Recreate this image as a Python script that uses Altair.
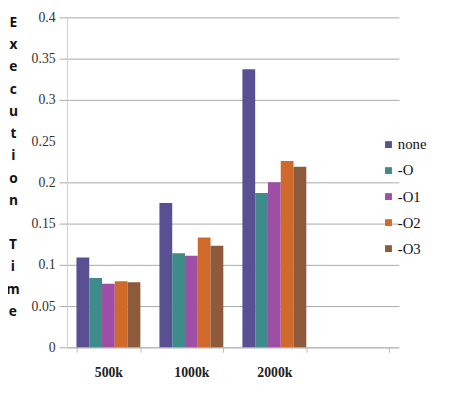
import altair as alt
import pandas as pd

categories = ["500k", "1000k", "2000k"]
all_categories = ["500k", "1000k", "2000k", "pad"]
series = ["none", "-O", "-O1", "-O2", "-O3"]
colors = ["#594f93", "#3f8a8b", "#9f4ea6", "#d06a2b", "#8d5b3b"]

v_none = [0.109, 0.175, 0.337]
v_O = [0.084, 0.114, 0.187]
v_O1 = [0.077, 0.111, 0.200]
v_O2 = [0.080, 0.133, 0.226]
v_O3 = [0.079, 0.123, 0.219]

y_ticks = [0, 0.05, 0.1, 0.15, 0.2, 0.25, 0.3, 0.35, 0.4]
title_word1 = ["E", "x", "e", "c", "u", "t", "i", "o", "n"]
title_word2 = ["T", "i", "m", "e"]

rows = []
for s, vals in zip(series, [v_none, v_O, v_O1, v_O2, v_O3]):
    for c, v in zip(categories, vals):
        rows.append({"size": c, "opt": s, "time": v})
df = pd.DataFrame(rows)

SERIF = "Times New Roman, Liberation Serif, serif"
LH = 22.7

bars = alt.Chart(df).mark_bar().encode(
    x=alt.X("size:N",
            scale=alt.Scale(domain=all_categories, paddingInner=0.23, paddingOuter=0.115),
            axis=alt.Axis(title=None, labelAngle=0, tickBand="extent", tickSize=5,
                          labelExpr="datum.value == 'pad' ? '' : datum.label",
                          labelFont=SERIF, labelFontSize=14, labelFontWeight="bold",
                          labelColor="#222", labelPadding=14, domainColor="#bbbbbb",
                          tickColor="#bbbbbb", grid=False)),
    xOffset=alt.XOffset("opt:N", scale=alt.Scale(domain=series, paddingInner=0, paddingOuter=0)),
    y=alt.Y("time:Q",
            scale=alt.Scale(domain=[0, 0.4], nice=False),
            axis=alt.Axis(values=y_ticks, title=title_word1, titleAngle=0, format="~g",
                          titleX=-55, titleY=-2, titleAlign="center", titleBaseline="top",
                          titleFont="Open Sans", titleFontSize=14, titleFontWeight="bold",
                          titleLineHeight=LH, titleColor="#111",
                          labelFont=SERIF, labelFontSize=14, labelColor="#333",
                          labelPadding=4, tickSize=8,
                          gridColor=alt.condition("abs(datum.value - 0.25) < 0.001",
                                                  alt.value("transparent"),
                                                  alt.value("#a8a8a8")),
                          tickColor=alt.condition("abs(datum.value - 0.25) < 0.001",
                                                  alt.value("transparent"),
                                                  alt.value("#a8a8a8")),
                          domainColor="#cccccc")),
    color=alt.Color("opt:N",
                    scale=alt.Scale(domain=series, range=colors),
                    legend=alt.Legend(title=None, orient="none", legendX=320, legendY=122,
                                      symbolType="square", symbolSize=49, symbolStrokeWidth=0,
                                      labelFont=SERIF, labelFontSize=15,
                                      labelColor="#111", labelOffset=2, rowPadding=10.5)),
)

word2 = alt.Chart(pd.DataFrame({"k": [0]})).mark_text(
    text=title_word2, align="center", baseline="top", lineHeight=LH,
    font="Open Sans", fontSize=14, fontWeight="bold", color="#111", clip=False,
).encode(x=alt.value(-55), y=alt.value(-2 + 10 * LH))

chart = alt.layer(bars, word2).properties(
    width=338,
    height=336,
    autosize=alt.AutoSizeParams(type="none"),
    padding={"left": 60, "top": 6, "right": 45, "bottom": 46},
).configure_view(stroke=None).configure_axis(gridWidth=1)

chart.save("out.html", embed_options={"renderer": "svg", "actions": False})
